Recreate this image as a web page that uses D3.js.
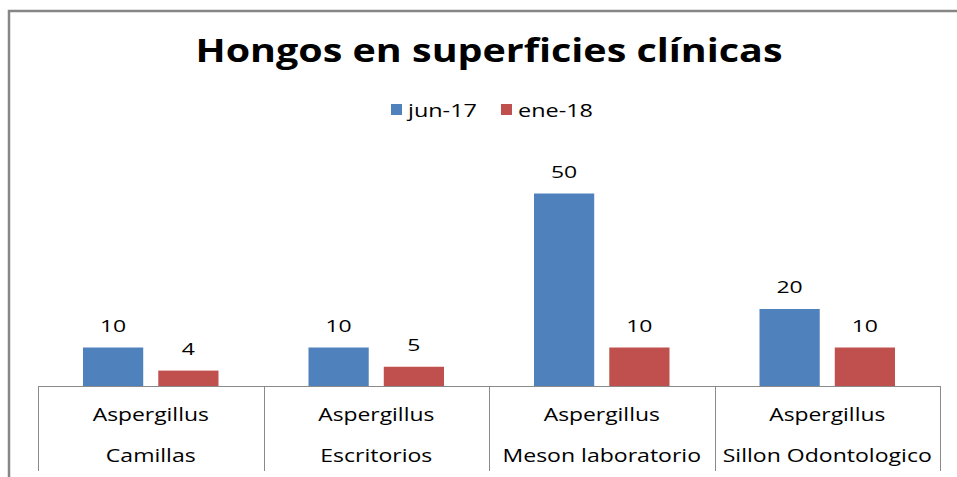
<!DOCTYPE html>
<html>
<head>
<meta charset="utf-8">
<script src="https://cdn.jsdelivr.net/npm/d3@7"></script>
<style>
  html, body { margin: 0; padding: 0; background: #fff; }
  svg { display: block; }
</style>
</head>
<body>
<svg id="chart" width="957" height="477"></svg>
<script>
// Data
const categories = ["Camillas", "Escritorios", "Meson laboratorio", "Sillon Odontologico"];
const groupLabel = "Aspergillus";
const seriesNames = ["jun-17", "ene-18"];
const jun17 = [10, 10, 50, 20];
const ene18 = [4, 5, 10, 10];
const seriesColors = ["#4F81BD", "#C0504D"];

const svg = d3.select("#chart");
const W = 957, H = 477;
const font = "'Open Sans', 'Liberation Sans', sans-serif";

// Widen text horizontally (wide-set face look) keeping its anchor
function stretch(sel, factor) {
  sel.each(function () {
    const w = this.getComputedTextLength();
    d3.select(this)
      .attr("textLength", w * factor)
      .attr("lengthAdjust", "spacingAndGlyphs");
  });
}

// Outer chart frame (top and left edges visible)
svg.append("path")
  .attr("d", `M9,${H} V11 H${W}`)
  .attr("fill", "none")
  .attr("stroke", "#868686")
  .attr("stroke-width", 2.5);

const plot = { left: 38, right: 940, top: 155, bottom: 386 };

const x0 = d3.scaleBand()
  .domain(categories)
  .range([plot.left, plot.right])
  .paddingInner(0).paddingOuter(0);

const x1 = d3.scaleBand()
  .domain(seriesNames)
  .range([45, x0.bandwidth() - 45])
  .paddingInner(0.2);

const y = d3.scaleLinear().domain([0, 60]).range([plot.bottom, plot.top]);

const rows = categories.map((c, i) => ({ cat: c, values: [jun17[i], ene18[i]] }));

// Bars
const groups = svg.append("g").selectAll("g")
  .data(rows).join("g")
  .attr("transform", d => `translate(${x0(d.cat)},0)`);

groups.selectAll("rect")
  .data(d => d.values.map((v, k) => ({ name: seriesNames[k], v, k })))
  .join("rect")
  .attr("x", d => x1(d.name))
  .attr("width", x1.bandwidth())
  .attr("y", d => y(d.v))
  .attr("height", d => y(0) - y(d.v))
  .attr("fill", d => seriesColors[d.k]);

// Value labels
const vals = groups.selectAll("text.val")
  .data(d => d.values.map((v, k) => ({ name: seriesNames[k], v, k })))
  .join("text")
  .attr("class", "val")
  .attr("x", d => x1(d.name) + x1.bandwidth() / 2)
  .attr("y", d => y(d.v) - 16)
  .attr("text-anchor", "middle")
  .attr("font-family", font)
  .attr("font-size", 17)
  .attr("fill", "#000")
  .text(d => d.v);
stretch(vals, 1.35);

// Category axis: baseline, dividers, two-line labels
const axisColor = "#8a8a8a";
svg.append("line")
  .attr("x1", plot.left).attr("x2", plot.right)
  .attr("y1", plot.bottom + 0.5).attr("y2", plot.bottom + 0.5)
  .attr("stroke", axisColor).attr("stroke-width", 1);

const dividers = categories.map(c => x0(c)).concat([plot.right]);
svg.append("g").selectAll("line")
  .data(dividers).join("line")
  .attr("x1", d => Math.round(d) + 0.5).attr("x2", d => Math.round(d) + 0.5)
  .attr("y1", plot.bottom).attr("y2", 471)
  .attr("stroke", axisColor).attr("stroke-width", 1);

const catG = svg.append("g").selectAll("g")
  .data(categories).join("g")
  .attr("transform", d => `translate(${x0(d) + x0.bandwidth() / 2},0)`);

const line1 = catG.append("text")
  .attr("y", 421)
  .attr("text-anchor", "middle")
  .attr("font-family", font)
  .attr("font-size", 18)
  .attr("fill", "#000")
  .text(groupLabel);
stretch(line1, 1.27);

const line2 = catG.append("text")
  .attr("y", 462)
  .attr("text-anchor", "middle")
  .attr("font-family", font)
  .attr("font-size", 18)
  .attr("fill", "#000")
  .text(d => d);
stretch(line2, 1.28);

// Title
const title = svg.append("text")
  .attr("x", 489).attr("y", 62)
  .attr("text-anchor", "middle")
  .attr("font-family", font)
  .attr("font-weight", "bold")
  .attr("font-size", 33)
  .attr("fill", "#000")
  .text("Hongos en superficies clínicas");
stretch(title, 587 / title.node().getComputedTextLength());

// Legend
const legend = svg.append("g");
const legendX = [391, 501];
seriesNames.forEach((name, k) => {
  legend.append("rect")
    .attr("x", legendX[k]).attr("y", 104)
    .attr("width", 11).attr("height", 11)
    .attr("fill", seriesColors[k]);
  const t = legend.append("text")
    .attr("x", legendX[k] + 17).attr("y", 117)
    .attr("font-family", font)
    .attr("font-size", 18)
    .attr("fill", "#000")
    .text(name);
  stretch(t, 1.3);
});
</script>
</body>
</html>
